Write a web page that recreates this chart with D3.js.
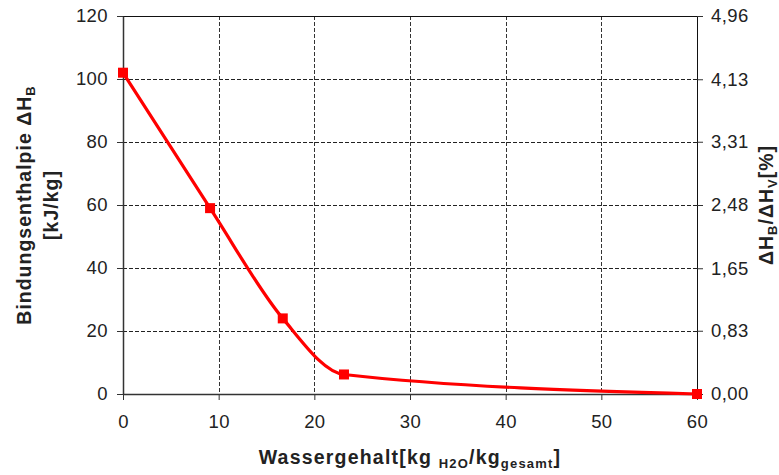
<!DOCTYPE html>
<html>
<head>
<meta charset="utf-8">
<script src="https://cdn.jsdelivr.net/npm/d3@7"></script>
<style>
  html, body { margin: 0; padding: 0; background: #fff; }
  svg { display: block; font-family: "Liberation Sans", Arial, sans-serif; }
</style>
</head>
<body>
<svg id="chart" width="779" height="475"></svg>
<script>
// ---- data ----
const waterContent = [0, 9.1, 16.7, 23.1, 60];
const bindingEnthalpy = [102, 59, 24, 6.2, 0];
const xTicks = [0, 10, 20, 30, 40, 50, 60];
const yTicks = [0, 20, 40, 60, 80, 100, 120];
const rightTicks = [0, 0.83, 1.65, 2.48, 3.31, 4.13, 4.96];
const rightTickLabels = ["0,00", "0,83", "1,65", "2,48", "3,31", "4,13", "4,96"];

const svg = d3.select("#chart");
const m = { left: 123, right: 697, top: 16, bottom: 394 };

const x = d3.scaleLinear().domain([0, 60]).range([m.left, m.right]);
const y = d3.scaleLinear().domain([0, 120]).range([m.bottom, m.top]);
const yR = d3.scaleLinear().domain([0, 4.96]).range([m.bottom, m.top]);

// grid
const grid = svg.append("g");
grid.selectAll("line.h").data(yTicks.filter(d => d > 0 && d < 120)).enter().append("line")
  .attr("x1", m.left).attr("x2", m.right)
  .attr("y1", d => y(d) + 0.5).attr("y2", d => y(d) + 0.5)
  .attr("stroke", "#222").attr("stroke-width", 1).attr("stroke-dasharray", "4,2");
grid.selectAll("line.v").data(xTicks.filter(d => d > 0 && d < 60)).enter().append("line")
  .attr("x1", d => Math.round(x(d)) + 0.5).attr("x2", d => Math.round(x(d)) + 0.5)
  .attr("y1", m.top).attr("y2", m.bottom)
  .attr("stroke", "#333").attr("stroke-width", 1).attr("stroke-dasharray", "4,2");

// frame top
svg.append("line").attr("x1", m.left).attr("x2", m.right)
  .attr("y1", m.top + 0.5).attr("y2", m.top + 0.5).attr("stroke", "#111");

// axes
const fmt = d => String(d);
const gl = svg.append("g").attr("transform", `translate(${m.left},0)`)
  .call(d3.axisLeft(y).tickValues(yTicks).tickSize(6).tickSizeOuter(0).tickPadding(9).tickFormat(fmt));
const gb = svg.append("g").attr("transform", `translate(0,${m.bottom})`)
  .call(d3.axisBottom(x).tickValues(xTicks).tickSize(6).tickSizeOuter(0).tickPadding(15).tickFormat(fmt));
const gr = svg.append("g").attr("transform", `translate(${m.right},0)`)
  .call(d3.axisRight(yR).tickValues(rightTicks).tickSize(6).tickSizeOuter(0).tickPadding(8)
    .tickFormat((d, i) => rightTickLabels[i]));

[gl, gb, gr].forEach(g => {
  g.selectAll("text").attr("font-size", "18.5px").attr("fill", "#222")
    .attr("font-family", "'Liberation Sans', Arial, sans-serif").style("letter-spacing", "0.4px");
  g.selectAll("line").attr("stroke", "#333").attr("stroke-width", 1);
  g.select(".domain").attr("stroke", "#333").attr("stroke-width", 1.5);
});
gr.select(".domain").attr("stroke", "#111").attr("stroke-width", 1);

// series line
const line = d3.line()
  .x((d, i) => x(waterContent[i]))
  .y(d => y(d))
  .curve(d3.curveMonotoneX);
svg.append("path").datum(bindingEnthalpy)
  .attr("d", line).attr("fill", "none")
  .attr("stroke", "#ff0000").attr("stroke-width", 3.2);

// markers
const ms = 10;
svg.selectAll("rect.mk").data(bindingEnthalpy).enter().append("rect")
  .attr("x", (d, i) => x(waterContent[i]) - ms / 2)
  .attr("y", d => y(d) - ms / 2)
  .attr("width", ms).attr("height", ms)
  .attr("fill", "#ff0000");

// axis titles
const tb = svg.append("text")
  .attr("x", (m.left + m.right) / 2).attr("y", 464)
  .attr("text-anchor", "middle").attr("font-weight", "bold")
  .attr("font-size", "19.5px").attr("fill", "#222").style("letter-spacing", "1.2px");
tb.append("tspan").text("Wassergehalt[kg ");
tb.append("tspan").attr("font-size", "13px").attr("dy", 4).text("H2O");
tb.append("tspan").attr("dy", -4).text("/kg");
tb.append("tspan").attr("font-size", "13px").attr("dy", 4).text("gesamt");
tb.append("tspan").attr("dy", -4).text("]");

const cy = (m.top + m.bottom) / 2;
const tl = svg.append("text")
  .attr("transform", `translate(31,${cy}) rotate(-90)`)
  .attr("text-anchor", "middle").attr("font-weight", "bold")
  .attr("font-size", "19.5px").attr("fill", "#222").style("letter-spacing", "1px");
tl.append("tspan").text("Bindungsenthalpie ΔH");
tl.append("tspan").attr("font-size", "13px").attr("dy", 4).text("B");
svg.append("text")
  .attr("transform", `translate(58,${cy}) rotate(-90)`)
  .attr("text-anchor", "middle").attr("font-weight", "bold")
  .attr("font-size", "19.5px").attr("fill", "#222").style("letter-spacing", "1px")
  .text("[kJ/kg]");

const tr = svg.append("text")
  .attr("transform", `translate(773,${cy}) rotate(-90)`)
  .attr("text-anchor", "middle").attr("font-weight", "bold")
  .attr("font-size", "19.5px").attr("fill", "#222").style("letter-spacing", "1px");
tr.append("tspan").text("ΔH");
tr.append("tspan").attr("font-size", "13px").attr("dy", 4).text("B");
tr.append("tspan").attr("dy", -4).text("/ΔH");
tr.append("tspan").attr("font-size", "13px").attr("dy", 4).text("V");
tr.append("tspan").attr("dy", -4).text("[%]");
</script>
</body>
</html>
